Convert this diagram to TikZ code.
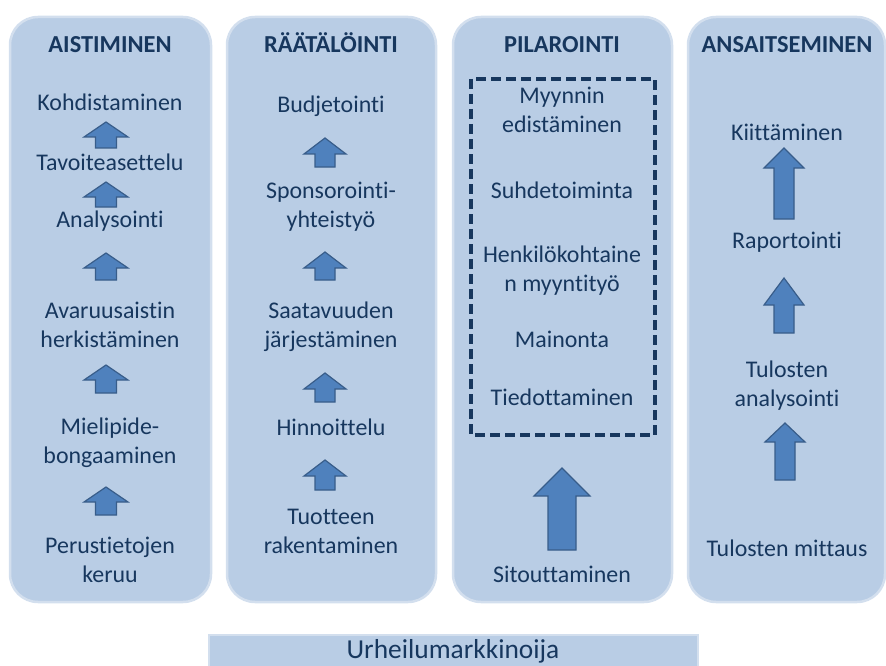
\documentclass[tikz,border=0pt]{standalone}
\usepackage{fontspec}
\setmainfont{Carlito}[RawFeature={-liga;-clig}]
\definecolor{boxfill}{HTML}{B9CDE5}
\definecolor{boxedge}{HTML}{D3DFEE}
\definecolor{navy}{HTML}{17375E}
\definecolor{arrfill}{HTML}{4F81BD}
\definecolor{arredge}{HTML}{385D8A}
\newcommand\UpArr[7]{% name, cx, tip, headbase, bottom, headW, shaftW
  \draw[arr] ({#2-#6/2},#4) -- (#2,#3) -- ({#2+#6/2},#4) -- ({#2+#7/2},#4)
    -- ({#2+#7/2},#5) -- ({#2-#7/2},#5) -- ({#2-#7/2},#4) -- cycle;
  \coordinate (#1) at (#2,#4);}
\begin{document}
\begin{tikzpicture}[x=1bp,y=-1bp,
  col/.style={fill=boxfill,draw=boxedge,line width=2.5bp,rounded corners=28bp},
  bar/.style={fill=boxfill,draw=boxedge,line width=2bp},
  ttl/.style={text=navy,font=\fontsize{24.5}{28}\selectfont\bfseries,inner sep=0pt},
  txt/.style={text=navy,font=\fontsize{24}{29.5}\selectfont,align=center,inner sep=0pt},
  big/.style={text=navy,font=\fontsize{27.5}{32}\selectfont,inner sep=0pt},
  arr/.style={fill=arrfill,draw=arredge,line width=1.2bp,line join=miter},
  dashbox/.style={draw=navy,line width=3.2bp,dash pattern=on 10bp off 5bp}]
\useasboundingbox (0,0) rectangle (886,666);
\clip (0,0) rectangle (886,666);
% columns
\draw[col] (10,17) rectangle (211,602);
\draw[col] (227,17) rectangle (436,602);
\draw[col] (453,17) rectangle (672,602);
\draw[col] (688,17) rectangle (885,602);
\draw[bar] (209,635) rectangle (698,690);
% column 1
\node[ttl] (t1) at (110,47) {\strut AISTIMINEN};
\node[txt] (a1) at (110,105) {\strut Kohdistaminen};
\node[txt] (a2) at (110,165) {\strut Tavoiteasettelu};
\node[txt] (a3) at (110,222) {\strut Analysointi};
\node[txt] (a4) at (110,327) {\strut Avaruusaistin\\\strut herkistäminen};
\node[txt] (a5) at (110,443) {\strut Mielipide-\\\strut bongaaminen};
\node[txt] (a6) at (110,562) {\strut Perustietojen\\\strut keruu};
\UpArr{p1}{106}{122}{137}{148}{44}{21}
\UpArr{p2}{106}{182}{197}{207}{44}{21}
\UpArr{p3}{106}{253}{268}{280}{44}{21}
\UpArr{p4}{106}{365}{380}{393}{44}{21}
\UpArr{p5}{106}{487}{502}{515}{44}{21}
% column 2
\node[ttl] (t2) at (331,47) {\strut RÄÄTÄLÖINTI};
\node[txt] (b1) at (331,107) {\strut Budjetointi};
\node[txt] (b2) at (331,207) {\strut Sponsorointi-\\\strut yhteistyö};
\node[txt] (b3) at (331,327) {\strut Saatavuuden\\\strut järjestäminen};
\node[txt] (b4) at (331,430) {\strut Hinnoittelu};
\node[txt] (b5) at (331,533) {\strut Tuotteen\\\strut rakentaminen};
\UpArr{q1}{325}{138}{154}{167}{42}{20}
\UpArr{q2}{325}{252}{268}{280}{42}{20}
\UpArr{q3}{325}{373}{389}{402}{42}{20}
\UpArr{q4}{325}{460}{476}{490}{42}{20}
% column 3
\node[ttl] (t3) at (562,47) {\strut PILAROINTI};
\draw[dashbox] (471,79) rectangle (655,435);
\node[txt] (c1) at (562,112) {\strut Myynnin\\\strut edistäminen};
\node[txt] (c2) at (562,193) {\strut Suhdetoiminta};
\node[txt] (c3) at (562,271) {\strut Henkilökohtaine\\\strut n myyntityö};
\node[txt] (c4) at (562,342) {\strut Mainonta};
\node[txt] (c5) at (562,400) {\strut Tiedottaminen};
\node[txt] (c6) at (562,577) {\strut Sitouttaminen};
\UpArr{r1}{562}{468}{496}{550}{56}{28}
% column 4
\node[ttl] (t4) at (787,47) {\strut ANSAITSEMINEN};
\node[txt] (d1) at (787,135) {\strut Kiittäminen};
\node[txt] (d2) at (787,243) {\strut Raportointi};
\node[txt] (d3) at (787,386) {\strut Tulosten\\\strut analysointi};
\node[txt] (d4) at (787,551) {\strut Tulosten mittaus};
\UpArr{s1}{784}{148}{168}{219}{40}{20}
\UpArr{s2}{784}{278}{305}{333}{40}{20}
\UpArr{s3}{785}{423}{442}{480}{40}{20}
% bottom bar
\node[big,anchor=base] (u) at (453,658) {Urheilumarkkinoija};
\end{tikzpicture}
\end{document}
